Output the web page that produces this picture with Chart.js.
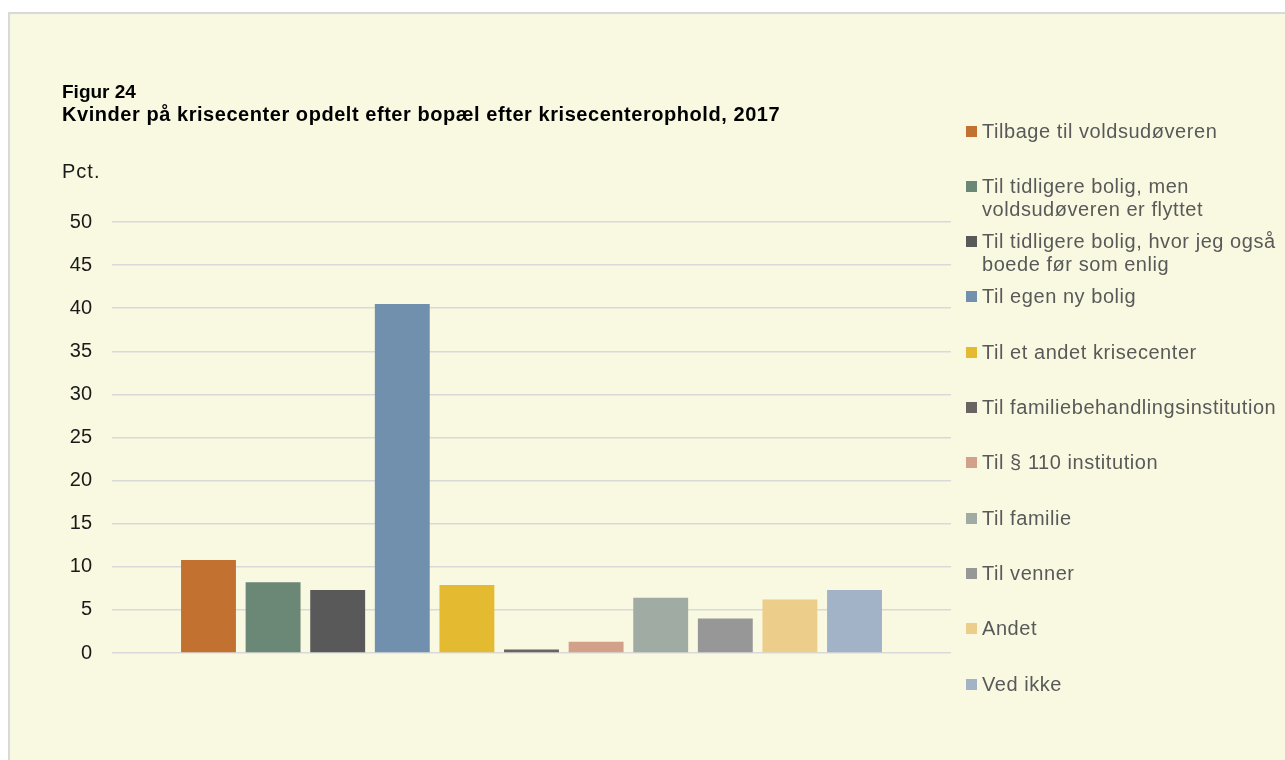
<!DOCTYPE html>
<html>
<head>
<meta charset="utf-8">
<script src="https://cdn.jsdelivr.net/npm/chart.js@4/dist/chart.umd.min.js"></script>
<style>
    body { margin: 0; background: #ffffff; font-family: "Liberation Sans", Arial, sans-serif; }
    #frame { position: absolute; left: 8px; top: 12px; width: 1290px; height: 760px;
             background: #F9F9E1; border-left: 2px solid #D9D9D9; border-top: 2px solid #D9D9D9; }
    #chart { position: absolute; left: 0; top: 0; }
    .title { position: absolute; left: 62px; font-weight: bold; color: #000; white-space: nowrap; }
    #pct { position: absolute; left: 62px; top: 160px; font-size: 20px; letter-spacing: 1px; color: #1a1a1a; }
    .leg { position: absolute; left: 966px; font-size: 20px; letter-spacing: 0.55px; line-height: 23px; color: #595959; white-space: nowrap; }
    .leg span.box { position: absolute; left: 0; top: 6px; width: 11px; height: 11px; }
    .leg div { padding-left: 16px; }
</style>
</head>
<body>
<div id="frame"></div>
<canvas id="chart" width="1285" height="760"></canvas>
<div class="title" style="top:81px; font-size:19px">Figur 24</div>
<div class="title" style="top:103px; font-size:20px; letter-spacing:0.55px">Kvinder på krisecenter opdelt efter bopæl efter krisecenterophold, 2017</div>
<div id="pct">Pct.</div>
<div id="legend"></div>
<script>
// serier (en pr. bopæl), linjer som i legenden
const kategorier = [
    ["Tilbage til voldsudøveren"],
    ["Til tidligere bolig, men", "voldsudøveren er flyttet"],
    ["Til tidligere bolig, hvor jeg også", "boede før som enlig"],
    ["Til egen ny bolig"],
    ["Til et andet krisecenter"],
    ["Til familiebehandlingsinstitution"],
    ["Til § 110 institution"],
    ["Til familie"],
    ["Til venner"],
    ["Andet"],
    ["Ved ikke"]
];
const procent = [10.8, 8.2, 7.3, 40.5, 7.9, 0.4, 1.3, 6.4, 4.0, 6.2, 7.3];
const farver = ["#C37130", "#6B8775", "#595959", "#7190AE", "#E4BB30", "#69645F",
                "#D3A18A", "#A0ACA3", "#979797", "#ECCD8A", "#A2B2C7"];
const yTicks = [0, 5, 10, 15, 20, 25, 30, 35, 40, 45, 50];

/*legende i html*/
const legendEl = document.getElementById("legend");
kategorier.forEach((linjer, i) => {
    const item = document.createElement("div");
    item.className = "leg";
    item.style.top = (131 + i * 55.3 - 11.5) + "px";
    item.innerHTML = '<span class="box" style="background:' + farver[i] + '"></span>' +
        linjer.map(l => "<div>" + l + "</div>").join("");
    legendEl.appendChild(item);
});

var ctx = document.getElementById("chart").getContext("2d");
new Chart(ctx, {
    type: "bar",
    data: {
        labels: [""],
        datasets: kategorier.map((linjer, i) => ({
            label: linjer.join(" "),
            data: [procent[i]],
            backgroundColor: farver[i],
            borderWidth: 0,
            categoryPercentage: 0.847,
            barPercentage: 0.85
        }))
    },
    options: {
        responsive: false,
        animation: false,
        layout: { padding: { left: 0, top: 222, right: 334, bottom: 107 } },
        plugins: { legend: { display: false }, tooltip: { enabled: false } },
        scales: {
            x: { display: false },
            y: {
                min: 0,
                max: 50,
                afterFit: s => { s.width = 112; },
                afterBuildTicks: s => { s.ticks = yTicks.map(v => ({ value: v })); },
                ticks: {
                    padding: 20,
                    color: "#1a1a1a",
                    font: { family: "Liberation Sans", size: 20 }
                },
                grid: { color: "#D9D9D9", lineWidth: 1.5, drawTicks: false },
                border: { display: false }
            }
        }
    }
});
</script>
</body>
</html>
